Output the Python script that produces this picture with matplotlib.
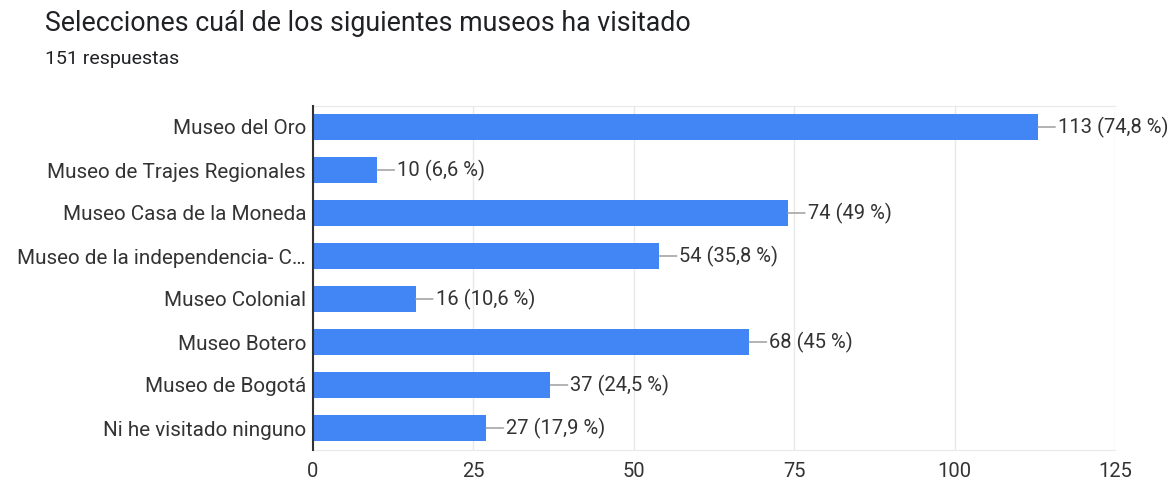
import matplotlib.pyplot as plt

# Google Forms survey results
museos = [
    "Museo del Oro",
    "Museo de Trajes Regionales",
    "Museo Casa de la Moneda",
    "Museo de la independencia- C…",
    "Museo Colonial",
    "Museo Botero",
    "Museo de Bogotá",
    "Ni he visitado ninguno",
]
conteos = [113, 10, 74, 54, 16, 68, 37, 27]
porcentajes = ["74,8", "6,6", "49", "35,8", "10,6", "45", "24,5", "17,9"]
ticks_x = [0, 25, 50, 75, 100, 125]

plt.rcParams["font.family"] = ["Roboto", "DejaVu Sans"]

fig = plt.figure(figsize=(11.75, 4.83), dpi=100)
ax = fig.add_axes([313 / 1175, 1 - 449.5 / 483, (1115 - 313) / 1175, 344 / 483])

pos = list(range(len(museos)))
ax.barh(pos, conteos, height=0.6, color="#4285f4", zorder=3)

for y, v, p in zip(pos, conteos, porcentajes):
    ax.annotate(f"{v} ({p} %)", xy=(v, y), xytext=(20, 0),
                textcoords="offset pixels", va="center", ha="left",
                fontsize=14.5, color="#333333",
                arrowprops=dict(arrowstyle="-", color="#9e9e9e", lw=1.1,
                                shrinkA=0, shrinkB=0))

ax.set_xlim(0, 125)
ax.set_ylim(len(museos) - 0.5, -0.5)
ax.set_xticks(ticks_x)
ax.set_yticks(pos)
ax.set_yticklabels(museos, fontsize=14.9)
ax.tick_params(axis="both", length=0, labelsize=14.5, colors="#333333")
ax.tick_params(axis="y", labelsize=14.9, pad=5)
ax.tick_params(axis="x", pad=9)
ax.grid(axis="x", color="#e8e8e8", lw=1, zorder=0)

ax.spines["right"].set_visible(False)
ax.spines["top"].set_color("#e8e8e8")
ax.spines["bottom"].set_color("#e8e8e8")
ax.spines["left"].set_color("#333333")
ax.spines["left"].set_linewidth(1.5)
ax.spines["left"].set_zorder(4)

fig.text(45 / 1175, 1 - 31 / 483, "Selecciones cuál de los siguientes museos ha visitado",
         fontsize=19.3, color="#202124", va="baseline")
fig.text(45 / 1175, 1 - 64 / 483, "151 respuestas",
         fontsize=14, color="#202124", va="baseline")

fig.savefig("out.png", dpi=100)
